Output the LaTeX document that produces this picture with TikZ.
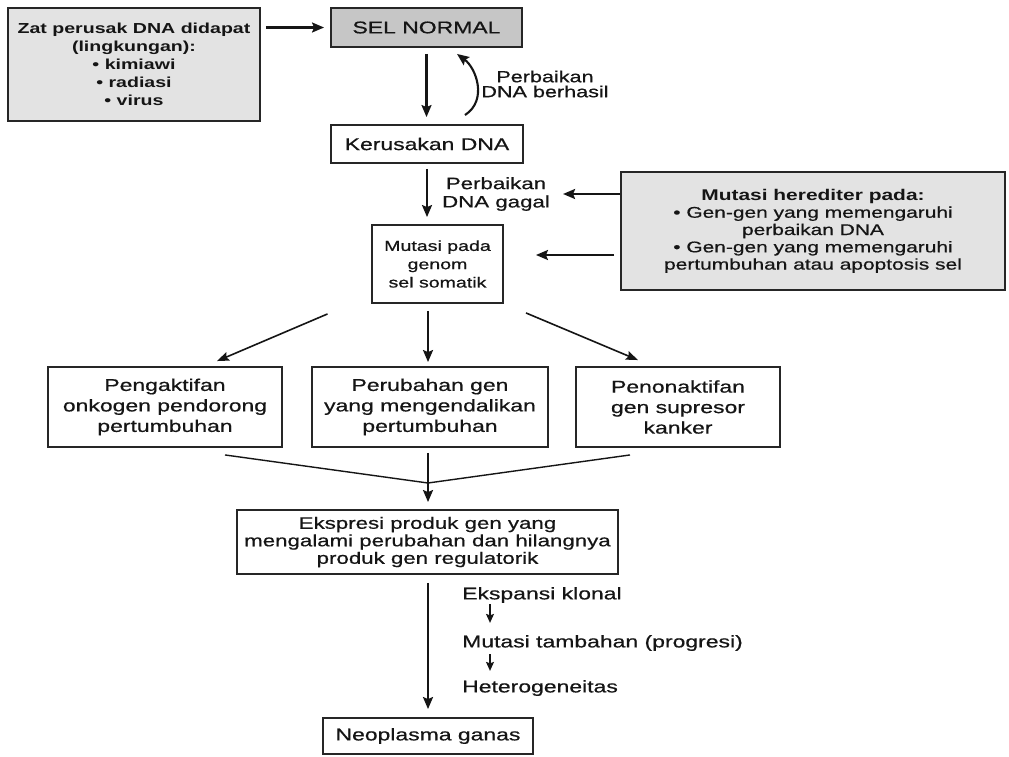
\documentclass[tikz,border=0pt]{standalone}
\usepackage{fontspec}
\setmainfont{Liberation Sans}[FakeStretch=1.35, UprightFeatures={FakeBold=0.6}]
\usetikzlibrary{arrows.meta,calc}
\definecolor{boxline}{HTML}{262626}
\definecolor{lightfill}{HTML}{E3E3E3}
\definecolor{darkfill}{HTML}{C6C6C6}
\definecolor{ink}{HTML}{151515}
\begin{document}
\begin{tikzpicture}[x=1pt,y=-1pt,
  box/.style={draw=boxline, line width=1.9pt, inner sep=0pt, align=center, text=ink},
  lbl/.style={inner sep=0pt, align=center, text=ink},
  side/.style={inner sep=0pt, anchor=west, text=ink, font=\fontsize{17}{20}\selectfont},
  arr/.style={draw=ink, line width=2.1pt, -{Stealth[length=12pt,width=10pt,inset=2pt]}},
  darr/.style={draw=ink, line width=1.6pt, -{Stealth[length=12pt,width=9pt,inset=2pt]}},
  small/.style={draw=ink, line width=1.3pt, -{Stealth[length=9pt,width=8pt,inset=1.5pt]}},
  conv/.style={draw=ink, line width=1.4pt}]
\useasboundingbox (0,0) rectangle (1009,756);
\fill[white] (0,0) rectangle (1009,756);

% top row
\node[box, fill=lightfill, minimum width=252pt, minimum height=113pt,
      font=\fontsize{14.5}{18}\selectfont\bfseries] (zat) at (134,64.5)
  {Zat perusak DNA didapat\\(lingkungan):\\\textbullet\ kimiawi\\\textbullet\ radiasi\\\textbullet\ virus};
\node[box, fill=darkfill, minimum width=191pt, minimum height=39pt,
      font=\fontsize{17}{20}\selectfont] (sel) at (426.5,27.5) {SEL NORMAL};
\node[box, minimum width=192pt, minimum height=38pt,
      font=\fontsize{17}{20}\selectfont] (ker) at (427,144) {Kerusakan DNA};
\node[lbl, font=\fontsize{16}{15}\selectfont] (berhasil) at (545,84) {Perbaikan\\DNA berhasil};
\node[lbl, font=\fontsize{16.5}{18.3}\selectfont] (gagal) at (496,194) {Perbaikan\\DNA gagal};
\node[box, minimum width=131pt, minimum height=78pt,
      font=\fontsize{14.5}{18.3}\selectfont] (mut) at (437.5,264) {Mutasi pada\\genom\\sel somatik};
\node[box, fill=lightfill, minimum width=384pt, minimum height=118pt,
      font=\fontsize{15.5}{17.3}\selectfont] (her) at (813,231)
  {\textbf{Mutasi herediter pada:}\\\textbullet\ Gen-gen yang memengaruhi\\perbaikan DNA\\\textbullet\ Gen-gen yang memengaruhi\\pertumbuhan atau apoptosis sel};

% three boxes
\node[box, minimum width=234pt, minimum height=80pt,
      font=\fontsize{17}{20.5}\selectfont] (onk) at (165,407) {Pengaktifan\\onkogen pendorong\\pertumbuhan};
\node[box, minimum width=236pt, minimum height=80pt,
      font=\fontsize{17}{20.5}\selectfont] (per) at (430,407) {Perubahan gen\\yang mengendalikan\\pertumbuhan};
\node[box, minimum width=204pt, minimum height=80pt,
      font=\fontsize{17}{20.5}\selectfont] (pen) at (678,407) {Penonaktifan\\gen supresor\\kanker};

\node[box, minimum width=381pt, minimum height=64pt,
      font=\fontsize{16.5}{17.5}\selectfont] (eks) at (427.5,542)
  {Ekspresi produk gen yang\\mengalami perubahan dan hilangnya\\produk gen regulatorik};
\node[box, minimum width=210pt, minimum height=36pt,
      font=\fontsize{17}{20}\selectfont] (neo) at (428,736) {Neoplasma ganas};

\node[side] (ekl) at (462,595) {Ekspansi klonal};
\node[side] (mtb) at (462,643) {Mutasi tambahan (progresi)};
\node[side] (het) at (462,688) {Heterogeneitas};

% connectors
\draw[arr, shorten <=5pt, shorten >=6pt] (zat.east |- sel.west) -- (sel.west);
\draw[arr, shorten <=6pt, shorten >=7pt] (sel.south) -- (sel.south |- ker.north);
\draw[arr] ($(ker.north)+(38,-9)$) .. controls (488,100) and (476,68) .. ($(sel.south)+(30.5,6)$);
\draw[arr, shorten <=5pt, shorten >=7pt] (ker.south) -- (ker.south |- mut.north);
\draw[arr, shorten >=13pt] (her.west |- gagal.east) -- (gagal.east);
\draw[arr, shorten >=32pt] ($(her.west)+(-6,24)$) -- ($(mut.east)+(0,-9)$);

\draw[darr] ($(mut.south)+(-110,10)$) -- ($(onk.north)+(52,-5)$);
\draw[arr, shorten <=7pt, shorten >=4pt] ($(mut.south)+(-9.5,0)$) -- ($(per.north)+(-2,0)$);
\draw[darr] ($(mut.south)+(88.5,9)$) -- ($(pen.north)+(-40,-6)$);

\coordinate (J) at (428,483);
\draw[conv] ($(onk.south)+(60,7)$) -- (J);
\draw[conv] ($(pen.south)+(-48,7)$) -- (J);
\draw[arr, shorten <=5pt, shorten >=7pt] (per.south -| J) -- (J |- eks.north);
\draw[arr, shorten <=8pt, shorten >=8pt] (eks.south -| J) -- (J |- neo.north);

\draw[small, shorten <=1pt, shorten >=12pt] ($(ekl.south west)+(28,0)$) -- ($(mtb.north west)+(28,0)$);
\draw[small, shorten <=3pt, shorten >=9pt] ($(mtb.south west)+(28,0)$) -- ($(het.north west)+(28,0)$);
\end{tikzpicture}
\end{document}
